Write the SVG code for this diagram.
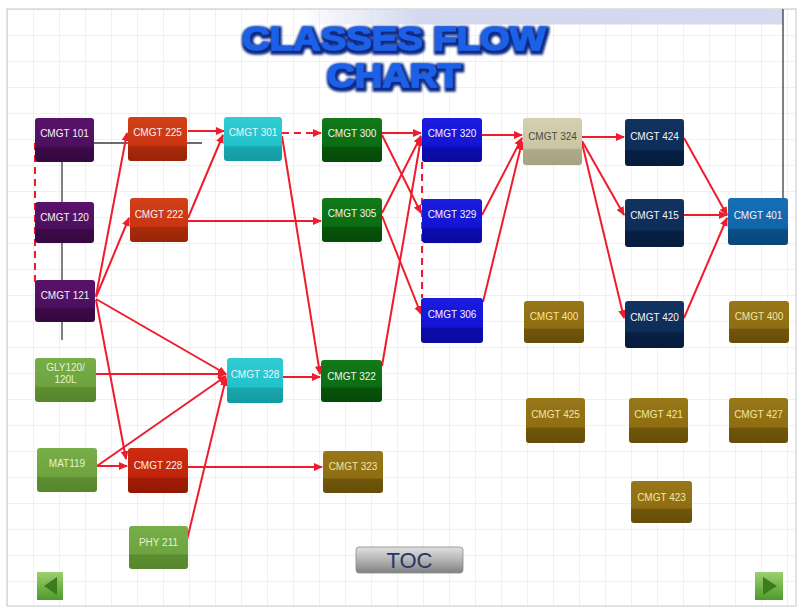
<svg xmlns="http://www.w3.org/2000/svg" width="798" height="608" viewBox="0 0 798 608">
<style>
.lbl{font-family:"Liberation Sans",Arial,sans-serif;font-size:10px;text-anchor:middle;fill:#f6f2f6}
.lbl.ol{fill:#f3e6a0}
.lbl.bg{fill:#4a4a3e}
.lbl.lg{fill:#e6f3c8}
.c{stroke:#ee1c2c;stroke-width:2;fill:none;marker-end:url(#ah)}
.cn{stroke:#ee1c2c;stroke-width:2;fill:none}
.d{stroke-dasharray:7 5}
.k{stroke:#3a3a44;stroke-width:1.3;fill:none}
.ttl{font-family:"Liberation Sans",Arial,sans-serif;font-weight:900;font-size:33px;fill:#1f60e8;stroke:#1f60e8;stroke-width:1.4;stroke-linejoin:round;text-anchor:middle}
</style>
<defs>
<pattern id="grid" width="26" height="26" patternUnits="userSpaceOnUse" x="7" y="9">
<path d="M0 0H26M0 0V26" stroke="#e0e4f3" stroke-width="1" fill="none"/>
</pattern>
<linearGradient id="banner" x1="0" y1="0" x2="1" y2="0">
<stop offset="0" stop-color="#d4d8ee" stop-opacity="0"/>
<stop offset="0.25" stop-color="#d4d8ee"/>
<stop offset="1" stop-color="#d6daee"/>
</linearGradient>
<marker id="ah" markerUnits="userSpaceOnUse" markerWidth="9" markerHeight="8" refX="8" refY="4" orient="auto">
<path d="M0 0L9 4L0 8z" fill="#ee1c2c"/>
</marker>
<linearGradient id="g-pu" x1="0" y1="0" x2="0" y2="1"><stop offset="0" stop-color="#58136a"/><stop offset="0.64" stop-color="#4e0f5e"/><stop offset="0.68" stop-color="#3c0a48"/><stop offset="1" stop-color="#350840"/></linearGradient>
<linearGradient id="g-rd" x1="0" y1="0" x2="0" y2="1"><stop offset="0" stop-color="#d2401a"/><stop offset="0.64" stop-color="#c83510"/><stop offset="0.68" stop-color="#a82a0a"/><stop offset="1" stop-color="#9a2406"/></linearGradient>
<linearGradient id="g-rd2" x1="0" y1="0" x2="0" y2="1"><stop offset="0" stop-color="#cc2c10"/><stop offset="0.64" stop-color="#c2240a"/><stop offset="0.68" stop-color="#a01c06"/><stop offset="1" stop-color="#921804"/></linearGradient>
<linearGradient id="g-cy" x1="0" y1="0" x2="0" y2="1"><stop offset="0" stop-color="#30ccd4"/><stop offset="0.64" stop-color="#22c2ca"/><stop offset="0.68" stop-color="#18a6ae"/><stop offset="1" stop-color="#149aa2"/></linearGradient>
<linearGradient id="g-dg" x1="0" y1="0" x2="0" y2="1"><stop offset="0" stop-color="#127a18"/><stop offset="0.64" stop-color="#0c6c12"/><stop offset="0.68" stop-color="#06540a"/><stop offset="1" stop-color="#044a08"/></linearGradient>
<linearGradient id="g-bl" x1="0" y1="0" x2="0" y2="1"><stop offset="0" stop-color="#1c1ce0"/><stop offset="0.64" stop-color="#1414d4"/><stop offset="0.68" stop-color="#0c0cac"/><stop offset="1" stop-color="#0a0aa0"/></linearGradient>
<linearGradient id="g-be" x1="0" y1="0" x2="0" y2="1"><stop offset="0" stop-color="#d4d0b0"/><stop offset="0.64" stop-color="#cac6a4"/><stop offset="0.68" stop-color="#acaa88"/><stop offset="1" stop-color="#a4a280"/></linearGradient>
<linearGradient id="g-nv" x1="0" y1="0" x2="0" y2="1"><stop offset="0" stop-color="#123462"/><stop offset="0.64" stop-color="#0e2d58"/><stop offset="0.68" stop-color="#072044"/><stop offset="1" stop-color="#061c3c"/></linearGradient>
<linearGradient id="g-sb" x1="0" y1="0" x2="0" y2="1"><stop offset="0" stop-color="#166eb4"/><stop offset="0.64" stop-color="#1166aa"/><stop offset="0.68" stop-color="#0a4e88"/><stop offset="1" stop-color="#08467c"/></linearGradient>
<linearGradient id="g-ol" x1="0" y1="0" x2="0" y2="1"><stop offset="0" stop-color="#98761a"/><stop offset="0.64" stop-color="#8f6e12"/><stop offset="0.68" stop-color="#70560a"/><stop offset="1" stop-color="#664e08"/></linearGradient>
<linearGradient id="g-lg" x1="0" y1="0" x2="0" y2="1"><stop offset="0" stop-color="#78ae48"/><stop offset="0.64" stop-color="#6ea440"/><stop offset="0.68" stop-color="#5c8e30"/><stop offset="1" stop-color="#56862c"/></linearGradient>
<linearGradient id="g-btn" x1="0" y1="0" x2="0" y2="1"><stop offset="0" stop-color="#e0e0e0"/><stop offset="0.5" stop-color="#b4b4b4"/><stop offset="1" stop-color="#808080"/></linearGradient>
<linearGradient id="g-nav" x1="0" y1="0" x2="0" y2="1"><stop offset="0" stop-color="#9cd070"/><stop offset="1" stop-color="#4e9a2a"/></linearGradient>
<filter id="ts" x="-10%" y="-30%" width="120%" height="160%">
<feMorphology in="SourceAlpha" operator="dilate" radius="1.5" result="d"/>
<feGaussianBlur in="d" stdDeviation="1.2" result="b"/>
<feFlood flood-color="#0b2a86"/>
<feComposite in2="b" operator="in"/>
<feOffset dx="1" dy="1.5" result="s"/>
<feMerge><feMergeNode in="s"/><feMergeNode in="SourceGraphic"/></feMerge>
</filter>
</defs>
<rect width="798" height="608" fill="#ffffff"/>
<rect x="7" y="9" width="789" height="597" fill="url(#grid)" stroke="#c4c6d0" stroke-width="1"/>
<rect x="300" y="9.5" width="483" height="15" fill="url(#banner)"/>
<g id="title" filter="url(#ts)">
<text class="ttl" x="394" y="50" textLength="304" lengthAdjust="spacingAndGlyphs">CLASSES FLOW</text>
<text class="ttl" x="394" y="87" textLength="134" lengthAdjust="spacingAndGlyphs">CHART</text>
</g>
<g id="connectors">
<line class="k" x1="783" y1="9" x2="783" y2="198"/>
<line class="k" x1="94" y1="143" x2="202" y2="143"/>
<line class="k" x1="62" y1="162" x2="62" y2="340"/>
<line class="cn d" x1="35" y1="143" x2="35" y2="284"/>
<line class="cn d" x1="422" y1="162" x2="422" y2="298"/>
<line class="c" x1="188" y1="131" x2="224" y2="131"/>
<line class="c" x1="96" y1="296" x2="127" y2="133"/>
<line class="c" x1="96" y1="297" x2="129" y2="218"/>
<line class="c" x1="188" y1="218" x2="223" y2="135"/>
<line class="c" x1="188" y1="221" x2="321" y2="221"/>
<line class="c d" x1="282" y1="133" x2="321" y2="133"/>
<line class="c" x1="282" y1="136" x2="320" y2="374"/>
<line class="c" x1="96" y1="299" x2="226" y2="374"/>
<line class="c" x1="96" y1="300" x2="126" y2="459"/>
<line class="c" x1="96" y1="374" x2="226" y2="374"/>
<line class="c" x1="97" y1="466" x2="226" y2="376"/>
<line class="c" x1="97" y1="466" x2="127" y2="466"/>
<line class="c" x1="187" y1="540" x2="226" y2="378"/>
<line class="c" x1="283" y1="377" x2="320" y2="377"/>
<line class="c" x1="188" y1="467" x2="322" y2="467"/>
<line class="c" x1="382" y1="133" x2="421" y2="133"/>
<line class="c" x1="382" y1="135" x2="421" y2="213"/>
<line class="c" x1="382" y1="213" x2="421" y2="136"/>
<line class="c" x1="382" y1="216" x2="421" y2="314"/>
<line class="c" x1="382" y1="366" x2="421" y2="138"/>
<line class="c" x1="482" y1="135" x2="522" y2="135"/>
<line class="c" x1="482" y1="215" x2="522" y2="138"/>
<line class="c" x1="483" y1="302" x2="522" y2="142"/>
<line class="c" x1="582" y1="137" x2="624" y2="137"/>
<line class="c" x1="582" y1="141" x2="624" y2="215"/>
<line class="c" x1="582" y1="143" x2="624" y2="318"/>
<line class="c" x1="684" y1="138" x2="727" y2="215"/>
<line class="c" x1="684" y1="215" x2="727" y2="215"/>
<line class="c" x1="684" y1="318" x2="727" y2="218"/>
</g>
<g id="n101"><rect x="35" y="118" width="59" height="44" rx="3" fill="url(#g-pu)"/><text class="lbl" x="64.5" y="137">CMGT 101</text></g>
<g id="n120"><rect x="35" y="202" width="59" height="41" rx="3" fill="url(#g-pu)"/><text class="lbl" x="64.5" y="221">CMGT 120</text></g>
<g id="n121"><rect x="35" y="280" width="60" height="42" rx="3" fill="url(#g-pu)"/><text class="lbl" x="65" y="299">CMGT 121</text></g>
<g id="ngly"><rect x="35" y="358" width="61" height="44" rx="3" fill="url(#g-lg)"/><text class="lbl lg" x="65.5" y="371">GLY120/</text><text class="lbl lg" x="65.5" y="383">120L</text></g>
<g id="nmat"><rect x="37" y="448" width="60" height="44" rx="3" fill="url(#g-lg)"/><text class="lbl lg" x="67" y="467">MAT119</text></g>
<g id="n225"><rect x="128" y="117" width="59" height="44" rx="3" fill="url(#g-rd)"/><text class="lbl" x="157.5" y="136">CMGT 225</text></g>
<g id="n222"><rect x="130" y="198" width="58" height="44" rx="3" fill="url(#g-rd)"/><text class="lbl" x="159" y="218">CMGT 222</text></g>
<g id="n228"><rect x="128" y="448" width="60" height="45" rx="3" fill="url(#g-rd2)"/><text class="lbl" x="158" y="469">CMGT 228</text></g>
<g id="nphy"><rect x="129" y="526" width="59" height="43" rx="3" fill="url(#g-lg)"/><text class="lbl lg" x="158.5" y="546">PHY 211</text></g>
<g id="n301"><rect x="224" y="117" width="58" height="44" rx="3" fill="url(#g-cy)"/><text class="lbl" x="253" y="136">CMGT 301</text></g>
<g id="n328"><rect x="227" y="358" width="56" height="45" rx="3" fill="url(#g-cy)"/><text class="lbl" x="255" y="378">CMGT 328</text></g>
<g id="n300"><rect x="322" y="118" width="60" height="44" rx="3" fill="url(#g-dg)"/><text class="lbl" x="352" y="137">CMGT 300</text></g>
<g id="n305"><rect x="322" y="198" width="60" height="44" rx="3" fill="url(#g-dg)"/><text class="lbl" x="352" y="217">CMGT 305</text></g>
<g id="n322"><rect x="321" y="360" width="61" height="42" rx="3" fill="url(#g-dg)"/><text class="lbl" x="351.5" y="380">CMGT 322</text></g>
<g id="n323"><rect x="323" y="451" width="60" height="42" rx="3" fill="url(#g-ol)"/><text class="lbl ol" x="353" y="470">CMGT 323</text></g>
<g id="n320"><rect x="422" y="118" width="60" height="44" rx="3" fill="url(#g-bl)"/><text class="lbl" x="452" y="137">CMGT 320</text></g>
<g id="n329"><rect x="422" y="199" width="60" height="44" rx="3" fill="url(#g-bl)"/><text class="lbl" x="452" y="218">CMGT 329</text></g>
<g id="n306"><rect x="421" y="298" width="62" height="45" rx="3" fill="url(#g-bl)"/><text class="lbl" x="452" y="318">CMGT 306</text></g>
<g id="n324"><rect x="523" y="118" width="59" height="47" rx="3" fill="url(#g-be)"/><text class="lbl bg" x="552.5" y="140">CMGT 324</text></g>
<g id="n400a"><rect x="524" y="301" width="60" height="42" rx="3" fill="url(#g-ol)"/><text class="lbl ol" x="554" y="320">CMGT 400</text></g>
<g id="n425"><rect x="526" y="398" width="59" height="45" rx="3" fill="url(#g-ol)"/><text class="lbl ol" x="555.5" y="418">CMGT 425</text></g>
<g id="n424"><rect x="625" y="119" width="59" height="47" rx="3" fill="url(#g-nv)"/><text class="lbl" x="654.5" y="140">CMGT 424</text></g>
<g id="n415"><rect x="625" y="199" width="59" height="48" rx="3" fill="url(#g-nv)"/><text class="lbl" x="654.5" y="219">CMGT 415</text></g>
<g id="n420"><rect x="625" y="301" width="59" height="47" rx="3" fill="url(#g-nv)"/><text class="lbl" x="654.5" y="321">CMGT 420</text></g>
<g id="n421"><rect x="629" y="398" width="59" height="45" rx="3" fill="url(#g-ol)"/><text class="lbl ol" x="658.5" y="418">CMGT 421</text></g>
<g id="n423"><rect x="631" y="481" width="61" height="42" rx="3" fill="url(#g-ol)"/><text class="lbl ol" x="661.5" y="501">CMGT 423</text></g>
<g id="n401"><rect x="728" y="198" width="60" height="47" rx="3" fill="url(#g-sb)"/><text class="lbl" x="758" y="219">CMGT 401</text></g>
<g id="n400b"><rect x="729" y="301" width="60" height="42" rx="3" fill="url(#g-ol)"/><text class="lbl ol" x="759" y="320">CMGT 400</text></g>
<g id="n427"><rect x="729" y="398" width="59" height="45" rx="3" fill="url(#g-ol)"/><text class="lbl ol" x="758.5" y="418">CMGT 427</text></g>
<g id="toc"><rect x="356" y="547" width="107" height="26" rx="3" fill="url(#g-btn)" stroke="#8a8a8a" stroke-width="0.8"/><text x="409.5" y="568" font-family="'Liberation Sans',Arial,sans-serif" font-size="22" fill="#2a3566" text-anchor="middle">TOC</text></g>
<g id="prev"><rect x="37" y="572" width="26" height="28" fill="url(#g-nav)"/><polygon points="44,586 57,577 57,595" fill="#3a7c1e"/></g>
<g id="next"><rect x="755" y="572" width="28" height="28" fill="url(#g-nav)"/><polygon points="777,586 763,577 763,595" fill="#3a7c1e"/></g>
</svg>
